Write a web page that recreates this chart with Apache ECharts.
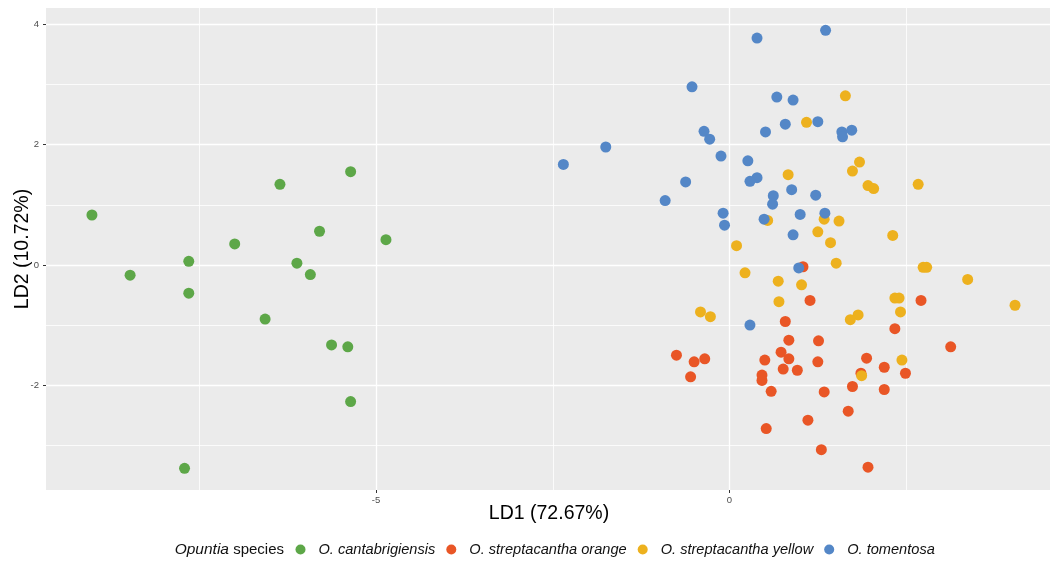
<!DOCTYPE html>
<html><head><meta charset="utf-8">
<script src="https://cdn.jsdelivr.net/npm/echarts@6/dist/echarts.min.js"></script>
<style>html,body{margin:0;padding:0;background:#fff}#c{width:1051px;height:562px}</style>
</head><body><div id="c"></div>
<script>
// ---- data ----
const speciesNames = ['O. cantabrigiensis', 'O. streptacantha orange', 'O. streptacantha yellow', 'O. tomentosa'];
const speciesColors = ['#5DA748', '#E95626', '#EDB11E', '#5487C7'];

const cantabrigiensis = [
  [-9.02, 0.83], [-8.48, -0.17], [-7.65, 0.06], [-7.65, -0.47], [-7.00, 0.35], [-6.36, 1.34],
  [-6.57, -0.90], [-6.12, 0.03], [-5.93, -0.16], [-5.80, 0.56], [-5.36, 1.55], [-4.86, 0.42],
  [-5.63, -1.33], [-5.40, -1.36], [-5.36, -2.27], [-7.71, -3.38]
];
const streptacanthaOrange = [
  [1.04, -0.03], [1.14, -0.59], [2.71, -0.59], [2.34, -1.06], [0.79, -0.94], [0.84, -1.25],
  [1.26, -1.26], [3.13, -1.36], [-0.75, -1.50], [-0.35, -1.56], [-0.50, -1.61], [-0.55, -1.86],
  [0.73, -1.45], [0.84, -1.56], [0.50, -1.58], [0.76, -1.73], [0.96, -1.75], [0.46, -1.83],
  [0.46, -1.92], [0.59, -2.10], [1.25, -1.61], [1.94, -1.55], [2.19, -1.70], [2.49, -1.80],
  [1.86, -1.80], [1.74, -2.02], [2.19, -2.07], [1.34, -2.11], [1.68, -2.43], [1.11, -2.58],
  [0.52, -2.72], [1.30, -3.07], [1.96, -3.36]
];
const streptacanthaYellow = [
  [1.64, 2.81], [1.09, 2.37], [1.84, 1.71], [1.74, 1.56], [0.83, 1.50], [1.96, 1.32],
  [2.04, 1.27], [2.67, 1.34], [0.54, 0.74], [1.34, 0.76], [1.55, 0.73], [1.25, 0.55],
  [2.31, 0.49], [1.43, 0.37], [0.10, 0.32], [1.51, 0.03], [2.74, -0.04], [2.79, -0.04],
  [0.22, -0.13], [3.37, -0.24], [0.69, -0.27], [1.02, -0.33], [0.70, -0.61], [2.34, -0.55],
  [2.40, -0.55], [4.04, -0.67], [2.42, -0.78], [-0.41, -0.78], [-0.27, -0.86], [1.82, -0.83],
  [1.71, -0.91], [2.44, -1.58], [1.87, -1.84]
];
const tomentosa = [
  [1.36, 3.90], [0.39, 3.77], [-0.53, 2.96], [0.67, 2.79], [0.90, 2.74], [0.79, 2.34],
  [1.25, 2.38], [-0.36, 2.22], [-0.28, 2.09], [0.51, 2.21], [1.59, 2.21], [1.60, 2.13],
  [1.73, 2.24], [-1.75, 1.96], [-2.35, 1.67], [-0.12, 1.81], [0.26, 1.73], [0.39, 1.45],
  [0.29, 1.39], [-0.62, 1.38], [-0.91, 1.07], [0.88, 1.25], [1.22, 1.16], [0.62, 1.15],
  [0.61, 1.01], [-0.09, 0.86], [-0.07, 0.66], [0.49, 0.76], [1.00, 0.84], [1.35, 0.86],
  [0.90, 0.50], [0.98, -0.05], [0.29, -1.00]
];
const seriesData = [cantabrigiensis, streptacanthaOrange, streptacanthaYellow, tomentosa];

const xMajorTicks = [-5, 0];
const xMinorTicks = [-7.5, -2.5, 2.5];
const yMajorTicks = [-2, 0, 2, 4];
const yMinorTicks = [-3, -1, 1, 3];
const xRange = [-9.67, 4.535];
const yRange = [-3.74, 4.27];

const xTitle = 'LD1 (72.67%)';
const yTitle = 'LD2 (10.72%)';

// ---- chart ----
const FONT = '"Liberation Sans", Arial, sans-serif';
const chart = echarts.init(document.getElementById('c'), null, {renderer: 'canvas'});

const tickLabel = {color: '#4D4D4D', fontSize: 9.5, fontFamily: FONT};

function mkX(major) {
  return {
    type: 'value', gridIndex: 0, position: 'bottom',
    min: xRange[0], max: xRange[1],
    axisLine: {show: false, onZero: false},
    axisTick: major ? {show: true, length: 3, lineStyle: {color: '#333', width: 1}, customValues: xMajorTicks}
                    : {show: false, customValues: xMinorTicks},
    axisLabel: major ? Object.assign({show: true, margin: 5, customValues: xMajorTicks}, tickLabel)
                     : {show: false},
    splitLine: {show: true, lineStyle: {color: '#FFFFFF', width: major ? 1.3 : 0.8}}
  };
}
function mkY(major) {
  return {
    type: 'value', gridIndex: 0, position: 'left',
    min: yRange[0], max: yRange[1],
    axisLine: {show: false, onZero: false},
    axisTick: major ? {show: true, length: 3, lineStyle: {color: '#333', width: 1}, customValues: yMajorTicks}
                    : {show: false, customValues: yMinorTicks},
    axisLabel: major ? Object.assign({show: true, margin: 7, customValues: yMajorTicks}, tickLabel)
                     : {show: false},
    splitLine: {show: true, lineStyle: {color: '#FFFFFF', width: major ? 1.3 : 0.8}}
  };
}

chart.setOption({
  animation: false,
  backgroundColor: '#FFFFFF',
  grid: {left: 46, right: 1, top: 8, bottom: 72, show: true, backgroundColor: '#EBEBEB', borderWidth: 0, containLabel: false},
  xAxis: [mkX(true), mkX(false)],
  yAxis: [mkY(true), mkY(false)],
  legend: {
    show: true, orient: 'horizontal', left: 295.5, top: 542, padding: 0,
    itemWidth: 10, itemHeight: 10, itemGap: 11, icon: 'circle',
    textStyle: {fontSize: 14.6, fontStyle: 'italic', color: '#111', fontFamily: FONT, padding: [0, 0, 0, 8]},
    selectedMode: false,
    data: speciesNames
  },
  graphic: [
    {type: 'text', x: 549, y: 514, style: {text: xTitle, fill: '#000', font: '19.5px ' + FONT, align: 'center', verticalAlign: 'middle'}},
    {type: 'text', x: 23, y: 249, rotation: Math.PI / 2, style: {text: yTitle, fill: '#000', font: '19.5px ' + FONT, align: 'center', verticalAlign: 'middle'}},
    {type: 'text', x: 284, y: 550, style: {
      text: '{i|Opuntia} species', align: 'right', verticalAlign: 'middle',
      fill: '#111', font: '15px ' + FONT,
      rich: {i: {fontStyle: 'italic', fontSize: 15.5, fontFamily: FONT, fill: '#111'}}
    }}
  ],
  series: seriesData.map((d, i) => ({
    type: 'scatter', name: speciesNames[i], data: d,
    xAxisIndex: 0, yAxisIndex: 0,
    symbol: 'circle', symbolSize: 11,
    itemStyle: {color: speciesColors[i], opacity: 1},
    emphasis: {disabled: true}
  }))
});
</script>
</body></html>
